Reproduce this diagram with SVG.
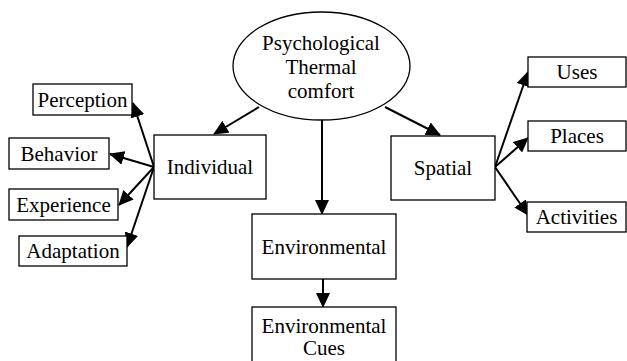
<svg xmlns="http://www.w3.org/2000/svg" width="627" height="361" viewBox="0 0 627 361">
<defs>
<marker id="ah" viewBox="0 0 15 14" refX="14" refY="7" markerWidth="15" markerHeight="14" orient="auto" markerUnits="userSpaceOnUse">
<path d="M0,0 L15,7 L0,14 Z" fill="#000"/>
</marker>
<style>
.box{fill:#fff;stroke:#000;stroke-width:1.3}
.t{font-size:21px;fill:#000;text-anchor:middle}
.c{stroke:#000;stroke-width:2;fill:none;marker-end:url(#ah)}
</style>
</defs>
<rect width="627" height="361" fill="#fff"/>
<g id="connectors">
<line class="c" x1="259" y1="107" x2="214" y2="134"/>
<line class="c" x1="322" y1="120" x2="322" y2="214"/>
<line class="c" x1="385" y1="107" x2="440" y2="135"/>
<line class="c" x1="323" y1="279" x2="323" y2="307"/>
<line class="c" x1="154" y1="167" x2="133" y2="103"/>
<line class="c" x1="154" y1="167" x2="110" y2="154"/>
<line class="c" x1="154" y1="167" x2="119" y2="205"/>
<line class="c" x1="154" y1="167" x2="127" y2="247"/>
<line class="c" x1="495" y1="167" x2="528" y2="72"/>
<line class="c" x1="495" y1="167" x2="528" y2="138"/>
<line class="c" x1="495" y1="167" x2="528" y2="215"/>
</g>
<g font-family="'Liberation Serif', 'Times New Roman', 'DejaVu Serif', serif">
<g id="psych">
<ellipse cx="321.5" cy="66" rx="88.5" ry="54" class="box"/>
<text class="t" x="321" y="50">Psychological</text>
<text class="t" x="321" y="74">Thermal</text>
<text class="t" x="321" y="98">comfort</text>
</g>
<g id="individual">
<rect class="box" x="154" y="135" width="112" height="64"/>
<text class="t" x="210" y="174">Individual</text>
</g>
<g id="perception">
<rect class="box" x="33" y="84" width="99" height="31"/>
<text class="t" x="82.5" y="107">Perception</text>
</g>
<g id="behavior">
<rect class="box" x="9" y="138" width="100" height="31"/>
<text class="t" x="59" y="160.5">Behavior</text>
</g>
<g id="experience">
<rect class="box" x="9" y="189" width="109" height="31"/>
<text class="t" x="63.5" y="211.5">Experience</text>
</g>
<g id="adaptation">
<rect class="box" x="19" y="236" width="108" height="30"/>
<text class="t" x="73" y="258">Adaptation</text>
</g>
<g id="spatial">
<rect class="box" x="391" y="136" width="104" height="64"/>
<text class="t" x="443" y="175">Spatial</text>
</g>
<g id="uses">
<rect class="box" x="528" y="57" width="98" height="30"/>
<text class="t" x="577" y="79">Uses</text>
</g>
<g id="places">
<rect class="box" x="528" y="121" width="98" height="30"/>
<text class="t" x="577" y="143">Places</text>
</g>
<g id="activities">
<rect class="box" x="527" y="202" width="99" height="30"/>
<text class="t" x="576.5" y="224">Activities</text>
</g>
<g id="environmental">
<rect class="box" x="252" y="214" width="144" height="65"/>
<text class="t" x="324" y="253.5">Environmental</text>
</g>
<g id="cues">
<rect class="box" x="252" y="307" width="144" height="70"/>
<text class="t" x="324" y="333">Environmental</text>
<text class="t" x="324" y="355">Cues</text>
</g>
</g>
</svg>
